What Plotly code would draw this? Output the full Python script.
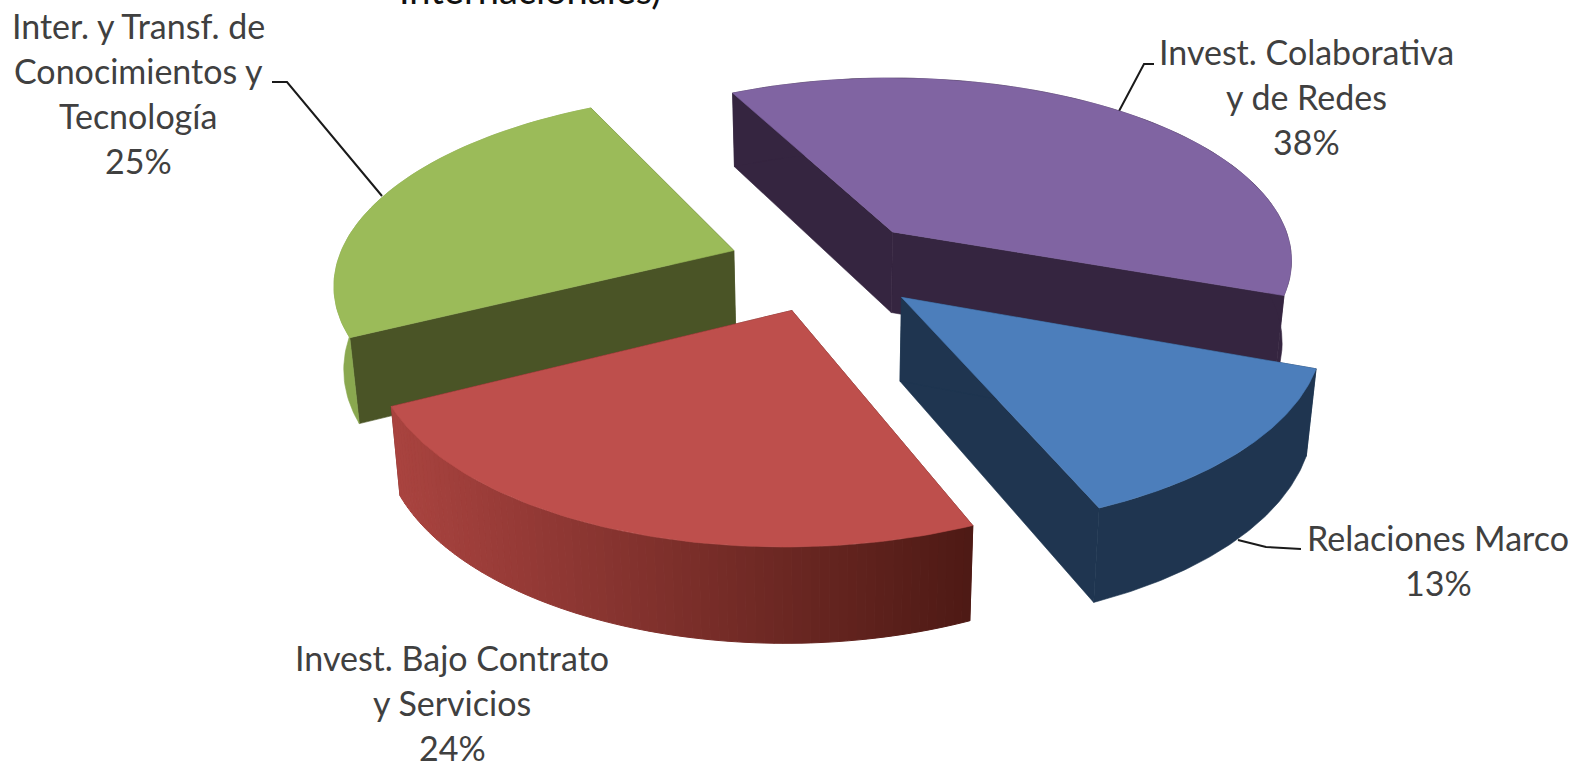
import numpy as np
import plotly.graph_objects as go

# ---- data (clockwise from the green / red boundary)
categories = ["Inter. y Transf. de<br>Conocimientos y<br>Tecnología",
              "Invest. Colaborativa<br>y de Redes",
              "Relaciones Marco",
              "Invest. Bajo Contrato<br>y Servicios"]
values = [25, 38, 13, 24]

# ---- style and view parameters
top_colors = ["#9bbb59", "#8064a2", "#4c7ebb", "#be4f4c"]
wall_colors = ["#4a5426", "#352540", "#1f3550", "#5a1f1a"]
rim_colors = ["#8aa84f", "#352540", "#1f3550", None]
explode = [0.2527, 0.2443, 0.2462, 0.2510]
red_rim_from = np.array([170, 68, 64])
red_rim_to = np.array([78, 26, 21])
label_centres = [(138, 25), (1306, 51), (1438, 537), (452, 657)]
line_step = 45.3
label_font = dict(family="Lato", size=34, color="#404040")
leaders = [([272, 287, 382], [82, 82, 196]),
           ([1154, 1144, 1118], [64, 64, 113]),
           ([1301, 1266, 1238], [549, 547, 540])]
CX, CY = 828.5, 265.0
A, B, C, D, G, H = -359.7, -177.3, 83.9, -166.0, -0.0616, 0.1369


def project(u, v):
    """Perspective view of the pie plane (unit radius) in chart coordinates."""
    w = 1 + G * u + H * v
    return CX + (A * u + B * v) / w, CY + (C * u + D * v) / w


def drop(x, y):
    """The bottom edge of the extruded pie for top-face points."""
    return x - (x - 825) * 0.02, y + 69 + 0.05 * y


def poly(fig, x, y, color, line_width=0.6):
    fig.add_trace(go.Scatter(x=list(x), y=list(y), mode="lines", fill="toself",
                             fillcolor=color, hoverinfo="skip", showlegend=False,
                             line=dict(color=color, width=line_width)))


fig = go.Figure()

# leader lines sit beneath the pie
for lx, ly in leaders:
    fig.add_trace(go.Scatter(x=lx, y=ly, mode="lines", hoverinfo="skip", showlegend=False,
                             line=dict(color="#1a1a1a", width=2)))

fractions = np.array(values, dtype=float) / sum(values)
edges = np.concatenate([[0], np.cumsum(fractions)]) * 2 * np.pi
draw_order = [1, 0, 3, 2]

for i in draw_order:
    t0, t1 = edges[i], edges[i + 1]
    mid = (t0 + t1) / 2
    ou, ov = explode[i] * np.cos(mid), explode[i] * np.sin(mid)
    ax, ay = project(ou, ov)
    th = np.linspace(t0, t1, 80)
    px, py = project(ou + np.cos(th), ov + np.sin(th))
    bx, by = drop(px, py)
    abx, aby = drop(ax, ay)

    # radial walls
    for k in (-1, 0):
        poly(fig, [ax, px[k], bx[k], abx, ax], [ay, py[k], by[k], aby, ay], wall_colors[i])

    # outer rim
    if rim_colors[i]:
        poly(fig, list(px) + list(bx[::-1]) + [px[0]],
             list(py) + list(by[::-1]) + [py[0]], rim_colors[i])
    else:
        # red rim: horizontal shading from left to right
        lo, hi = px.min(), px.max()
        for j in range(len(th) - 1):
            f = ((px[j] + px[j + 1]) / 2 - lo) / (hi - lo)
            c = red_rim_from + (red_rim_to - red_rim_from) * f
            col = "rgb(%d,%d,%d)" % tuple(c)
            poly(fig, [px[j], px[j + 1], bx[j + 1], bx[j], px[j]],
                 [py[j], py[j + 1], by[j + 1], by[j], py[j]], col, 1)

    # top face
    poly(fig, [ax] + list(px) + [ax], [ay] + list(py) + [ay], top_colors[i])

annotations = []
for cat, val, (cx, cy) in zip(categories, values, label_centres):
    lines = cat.split("<br>") + [f"{val}%"]
    for n, text in enumerate(lines):
        annotations.append(dict(x=cx, y=cy + n * line_step, text=text, showarrow=False,
                                xref="x", yref="y", xanchor="center", yanchor="middle",
                                font=label_font))
annotations.append(dict(x=530 / 1576, y=1 + 11 / 764, text="Internacionales)", showarrow=False,
                        xref="paper", yref="paper", xanchor="center", yanchor="middle",
                        font=dict(family="Lato", size=38, color="#111111")))

fig.update_layout(
    width=1576, height=764, margin=dict(l=0, r=0, t=0, b=0),
    paper_bgcolor="white", plot_bgcolor="white", showlegend=False,
    xaxis=dict(range=[0, 1576], visible=False, fixedrange=True),
    yaxis=dict(range=[764, 0], visible=False, fixedrange=True),
    annotations=annotations,
)
fig.write_html("out.html", config=dict(displayModeBar=False),
               post_script="document.body.style.margin='0';document.body.style.overflow='hidden';")
